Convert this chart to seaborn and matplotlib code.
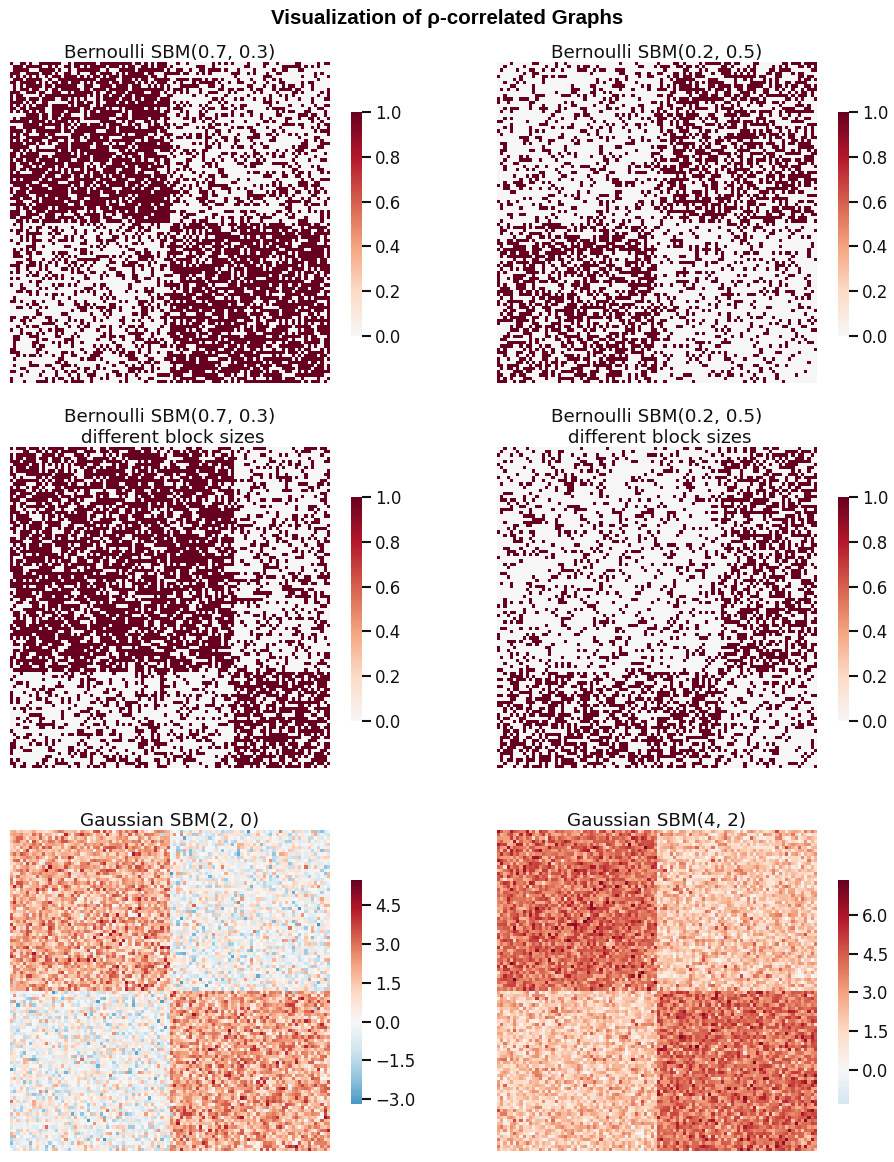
import numpy as np
import matplotlib
matplotlib.use("Agg")
import matplotlib.pyplot as plt
import seaborn as sns

# ---- data description ----
TITLES = [
    "Bernoulli SBM(0.7, 0.3)",
    "Bernoulli SBM(0.2, 0.5)",
    "Bernoulli SBM(0.7, 0.3)\n different block sizes",
    "Bernoulli SBM(0.2, 0.5)\n different block sizes",
    "Gaussian SBM(2, 0)",
    "Gaussian SBM(4, 2)",
]
KINDS = ["bern", "bern", "bern", "bern", "gauss", "gauss"]
BLOCK_SIZES = [[50, 50], [50, 50], [70, 30], [70, 30], [50, 50], [50, 50]]
WITHIN = [0.7, 0.2, 0.7, 0.2, 2.0, 4.0]
BETWEEN = [0.3, 0.5, 0.3, 0.5, 0.0, 2.0]
GAUSS_SD = 1.0
COLOR_MIN = [0.0, 0.0, 0.0, 0.0, -3.2, -1.35]
COLOR_MAX = [1.0, 1.0, 1.0, 1.0, 5.5, 7.37]
CBAR_TICKS = [
    [0.0, 0.2, 0.4, 0.6, 0.8, 1.0],
    [0.0, 0.2, 0.4, 0.6, 0.8, 1.0],
    [0.0, 0.2, 0.4, 0.6, 0.8, 1.0],
    [0.0, 0.2, 0.4, 0.6, 0.8, 1.0],
    [-3.0, -1.5, 0.0, 1.5, 3.0, 4.5],
    [0.0, 1.5, 3.0, 4.5, 6.0],
]
SUPTITLE = "Visualization of \u03c1-correlated Graphs"


def sample_sbm(sizes, p_in, p_out, kind, rng):
    labels = np.repeat(np.arange(len(sizes)), sizes)
    same = labels[:, None] == labels[None, :]
    n = len(labels)
    if kind == "bern":
        prob = np.where(same, p_in, p_out)
        u = rng.random((n, n))
        a = (u < prob).astype(float)
    else:
        mu = np.where(same, p_in, p_out)
        a = mu + GAUSS_SD * rng.standard_normal((n, n))
    upper = np.triu(a)
    return upper + np.triu(upper, 1).T


rng = np.random.default_rng(7)
mats = [sample_sbm(BLOCK_SIZES[i], WITHIN[i], BETWEEN[i], KINDS[i], rng)
        for i in range(6)]

sns.set_theme(style="white", context="talk")
plt.rcParams["font.family"] = ["DejaVu Sans"]

W, H = 895, 1162
fig = plt.figure(figsize=(W / 100, H / 100), dpi=100)

col_x = [10, 497]
row_y = [62, 447, 830]
cbar_x = [351, 838]
hm_w, hm_h = 320, 321
cb_w = 11
cb_h = 0.7 * hm_h


def frac(x, y, w, h):
    return [x / W, 1 - (y + h) / H, w / W, h / H]


for i in range(6):
    r, c = divmod(i, 2)
    ax = fig.add_axes(frac(col_x[c], row_y[r], hm_w, hm_h))
    cy = row_y[r] + hm_h / 2 + 1.5
    cax = fig.add_axes(frac(cbar_x[c], cy - cb_h / 2, cb_w, cb_h))
    sns.heatmap(
        mats[i], ax=ax, cbar_ax=cax, cmap="RdBu_r", center=0,
        vmin=COLOR_MIN[i], vmax=COLOR_MAX[i],
        xticklabels=False, yticklabels=False, square=False,
    )
    ax.set_title(TITLES[i], fontsize=13.2, pad=3, color="#111111")
    cax.set_yticks(CBAR_TICKS[i])
    cax.tick_params(axis="y", length=6.3, width=1.5, pad=3,
                    labelsize=12, colors="#111111", right=True)
    for sp in cax.spines.values():
        sp.set_visible(False)

fig.text(0.5, 1 - 24 / H, SUPTITLE, ha="center", va="baseline",
         fontsize=14.8, fontweight="bold", color="black",
         family=["Liberation Sans", "DejaVu Sans"])

fig.savefig("out.png", dpi=100)
